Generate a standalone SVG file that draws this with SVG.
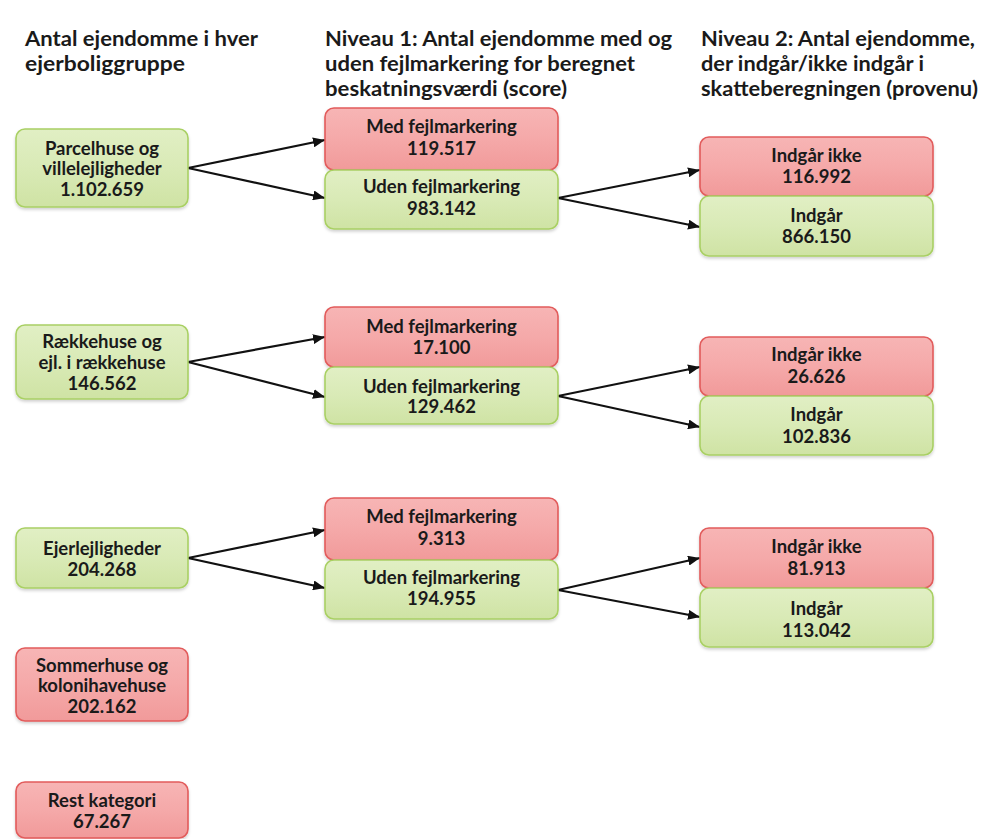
<svg xmlns="http://www.w3.org/2000/svg" width="983" height="839" viewBox="0 0 983 839">
<defs>
<linearGradient id="gRed" x1="0" y1="0" x2="0" y2="1">
<stop offset="0" stop-color="#f7b5b5"/>
<stop offset="0.5" stop-color="#f5a9a9"/>
<stop offset="1" stop-color="#f19a9a"/>
</linearGradient>
<linearGradient id="gGreen" x1="0" y1="0" x2="0" y2="1">
<stop offset="0" stop-color="#e1efc4"/>
<stop offset="0.5" stop-color="#d9eab6"/>
<stop offset="1" stop-color="#cfe3a4"/>
</linearGradient>
<filter id="sh" x="-10%" y="-10%" width="120%" height="130%">
<feDropShadow dx="0" dy="2" stdDeviation="1.5" flood-color="#000" flood-opacity="0.18"/>
</filter>
<marker id="ah" viewBox="0 0 12 10" refX="12" refY="5" markerWidth="12" markerHeight="10" markerUnits="userSpaceOnUse" orient="auto">
<path d="M0,0 L12,5 L0,10 Z" fill="#111"/>
</marker>
</defs>
<style>
.hd{font-family:Lato,"Liberation Sans",sans-serif;font-weight:bold;font-size:21px;fill:#1a1a1a}
.t{font-family:Lato,"Liberation Sans",sans-serif;font-weight:bold;font-size:18.5px;fill:#1a1a1a;text-anchor:middle}
.red{fill:url(#gRed);stroke:#e25b5b;stroke-width:1.6;filter:url(#sh)}
.grn{fill:url(#gGreen);stroke:#a9d064;stroke-width:1.6;filter:url(#sh)}
.ar{stroke:#111;stroke-width:2.2;fill:none;marker-end:url(#ah)}
</style>
<rect width="983" height="839" fill="#ffffff"/>
<g id="headers">
<text class="hd" x="25" y="46" textLength="233" lengthAdjust="spacingAndGlyphs">Antal ejendomme i hver</text>
<text class="hd" x="25" y="71" textLength="160" lengthAdjust="spacingAndGlyphs">ejerboliggruppe</text>
<text class="hd" x="325" y="46" textLength="347" lengthAdjust="spacingAndGlyphs">Niveau 1: Antal ejendomme med og</text>
<text class="hd" x="325" y="71" textLength="310" lengthAdjust="spacingAndGlyphs">uden fejlmarkering for beregnet</text>
<text class="hd" x="325" y="96" textLength="242" lengthAdjust="spacingAndGlyphs">beskatningsværdi (score)</text>
<text class="hd" x="701" y="46" textLength="274" lengthAdjust="spacingAndGlyphs">Niveau 2: Antal ejendomme,</text>
<text class="hd" x="701" y="71" textLength="223" lengthAdjust="spacingAndGlyphs">der indgår/ikke indgår i</text>
<text class="hd" x="701" y="96" textLength="277" lengthAdjust="spacingAndGlyphs">skatteberegningen (provenu)</text>
</g>
<g id="connectors">
<line class="ar" x1="188" y1="168" x2="325" y2="140"/>
<line class="ar" x1="188" y1="168" x2="325" y2="198"/>
<line class="ar" x1="558" y1="198" x2="700" y2="170"/>
<line class="ar" x1="558" y1="198" x2="700" y2="227"/>
<line class="ar" x1="188" y1="362" x2="325" y2="337"/>
<line class="ar" x1="188" y1="362" x2="325" y2="397"/>
<line class="ar" x1="558" y1="396" x2="700" y2="367"/>
<line class="ar" x1="558" y1="396" x2="700" y2="427"/>
<line class="ar" x1="188" y1="558" x2="325" y2="530"/>
<line class="ar" x1="188" y1="558" x2="325" y2="588"/>
<line class="ar" x1="558" y1="590" x2="700" y2="558"/>
<line class="ar" x1="558" y1="590" x2="700" y2="617"/>
</g>
<g id="n-parcel"><rect class="grn" x="16" y="129" width="172" height="78" rx="9"/>
<text class="t" x="102" y="155">Parcelhuse og</text><text class="t" x="102" y="175">villelejligheder</text><text class="t" x="102" y="196">1.102.659</text></g>
<g id="n-raekke"><rect class="grn" x="16" y="325" width="172" height="74" rx="9"/>
<text class="t" x="102" y="348">Rækkehuse og</text><text class="t" x="102" y="369">ejl. i rækkehuse</text><text class="t" x="102" y="390">146.562</text></g>
<g id="n-ejer"><rect class="grn" x="16" y="528" width="172" height="60" rx="9"/>
<text class="t" x="102" y="555">Ejerlejligheder</text><text class="t" x="102" y="576">204.268</text></g>
<g id="n-sommer"><rect class="red" x="16" y="648" width="172" height="73" rx="9"/>
<text class="t" x="102" y="672">Sommerhuse og</text><text class="t" x="102" y="692">kolonihavehuse</text><text class="t" x="102" y="713">202.162</text></g>
<g id="n-rest"><rect class="red" x="16" y="782" width="172" height="56" rx="9"/>
<text class="t" x="102" y="807">Rest kategori</text><text class="t" x="102" y="828">67.267</text></g>

<g id="n-med1"><rect class="red" x="325" y="108" width="233" height="62" rx="9"/>
<text class="t" x="441.5" y="133">Med fejlmarkering</text><text class="t" x="441.5" y="155">119.517</text></g>
<g id="n-uden1"><rect class="grn" x="325" y="170" width="233" height="59" rx="9"/>
<text class="t" x="441.5" y="193">Uden fejlmarkering</text><text class="t" x="441.5" y="215">983.142</text></g>
<g id="n-med2"><rect class="red" x="325" y="307" width="233" height="60" rx="9"/>
<text class="t" x="441.5" y="333">Med fejlmarkering</text><text class="t" x="441.5" y="354">17.100</text></g>
<g id="n-uden2"><rect class="grn" x="325" y="367" width="233" height="57" rx="9"/>
<text class="t" x="441.5" y="393">Uden fejlmarkering</text><text class="t" x="441.5" y="413">129.462</text></g>
<g id="n-med3"><rect class="red" x="325" y="498" width="233" height="62" rx="9"/>
<text class="t" x="441.5" y="523">Med fejlmarkering</text><text class="t" x="441.5" y="545">9.313</text></g>
<g id="n-uden3"><rect class="grn" x="325" y="560" width="233" height="59" rx="9"/>
<text class="t" x="441.5" y="584">Uden fejlmarkering</text><text class="t" x="441.5" y="605">194.955</text></g>

<g id="n-ikke1"><rect class="red" x="700" y="137" width="233" height="59" rx="9"/>
<text class="t" x="816.5" y="162">Indgår ikke</text><text class="t" x="816.5" y="183">116.992</text></g>
<g id="n-ind1"><rect class="grn" x="700" y="196" width="233" height="60" rx="9"/>
<text class="t" x="816.5" y="222">Indgår</text><text class="t" x="816.5" y="243">866.150</text></g>
<g id="n-ikke2"><rect class="red" x="700" y="337" width="233" height="59" rx="9"/>
<text class="t" x="816.5" y="361">Indgår ikke</text><text class="t" x="816.5" y="383">26.626</text></g>
<g id="n-ind2"><rect class="grn" x="700" y="396" width="233" height="59" rx="9"/>
<text class="t" x="816.5" y="421">Indgår</text><text class="t" x="816.5" y="443">102.836</text></g>
<g id="n-ikke3"><rect class="red" x="700" y="528" width="233" height="60" rx="9"/>
<text class="t" x="816.5" y="553">Indgår ikke</text><text class="t" x="816.5" y="575">81.913</text></g>
<g id="n-ind3"><rect class="grn" x="700" y="588" width="233" height="59" rx="9"/>
<text class="t" x="816.5" y="615">Indgår</text><text class="t" x="816.5" y="637">113.042</text></g>
</svg>
